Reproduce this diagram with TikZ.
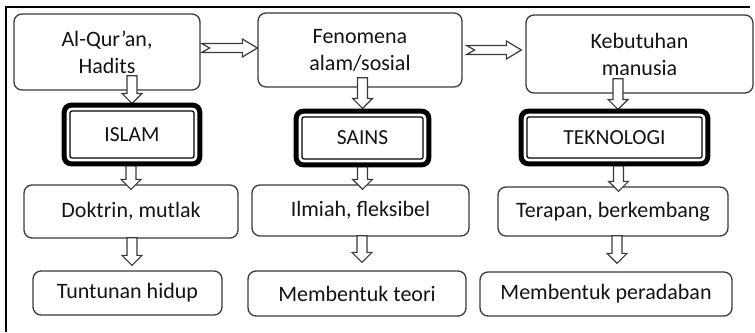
\documentclass[tikz,border=0pt]{standalone}
\usepackage{fontspec}
\setmainfont{Carlito}
\usetikzlibrary{calc}
\definecolor{edge}{HTML}{3A3A3A}
\definecolor{ink}{HTML}{141414}
\tikzset{
  rbox/.style={draw=edge, line width=1.3pt, rounded corners=8pt, fill=white,
    inner sep=0pt, align=center, text=ink, font=\fontsize{22}{27}\selectfont},
  inbox/.style={draw=black, line width=1.2pt, rounded corners=2pt, fill=white,
    inner sep=0pt, align=center, text=ink, font=\fontsize{21.5}{27}\selectfont},
  thickframe/.style={draw=black, line width=5pt, rounded corners=7pt},
  fat/.style={draw=edge, line width=1.2pt, fill=white, line join=miter},
  frameline/.style={draw=black, line width=1.3pt}
}
\newcommand\harrow[2]{%
  \draw[fat] let \p1=(#1), \p2=(#2) in
    (\x1,\y1+4.5pt) -- (\x2-15pt,\y1+4.5pt) -- (\x2-15pt,\y1+9pt) -- (\x2,\y1)
    -- (\x2-15pt,\y1-9pt) -- (\x2-15pt,\y1-4.5pt) -- (\x1,\y1-4.5pt)
    -- (\x1+8pt,\y1) -- cycle;}
\newcommand\varrow[2]{%
  \draw[fat] let \p1=(#1), \p2=(#2) in
    (\x1-5pt,\y1) -- (\x1-5pt,\y2+10pt) -- (\x1-10pt,\y2+10pt) -- (\x1,\y2)
    -- (\x1+10pt,\y2+10pt) -- (\x1+5pt,\y2+10pt) -- (\x1+5pt,\y1) -- cycle;}
\begin{document}
\begin{tikzpicture}[x=1pt,y=-1pt]
\useasboundingbox (0,0) rectangle (755,332);
\draw[frameline] (6,332) -- (6,7) -- (750,7);

% top row
\node[rbox, minimum width=186pt, minimum height=76pt] (a) at (107,52) {Al-Qur’an,\\Hadits};
\node[rbox, minimum width=204pt, minimum height=74pt] (b) at (360,50) {Fenomena\\alam/sosial};
\node[rbox, minimum width=227pt, minimum height=78pt] (c) at (639.5,54) {Kebutuhan\\manusia};

% middle row (thick-thin frames)
\node[inbox, minimum width=124pt, minimum height=47pt] (islam) at (132,134.5) {ISLAM};
\node[inbox, minimum width=121pt, minimum height=42pt] (sains) at (362.5,138) {SAINS};
\node[inbox, minimum width=175pt, minimum height=41pt] (tek) at (614.5,137.5) {TEKNOLOGI};

% lower rows
\node[rbox, minimum width=214pt, minimum height=53pt] (dok) at (131,211.5) {Doktrin, mutlak};
\node[rbox, minimum width=217pt, minimum height=51pt] (ilm) at (360.5,210.5) {Ilmiah, fleksibel};
\node[rbox, minimum width=230pt, minimum height=49pt] (ter) at (613,211.5) {Terapan, berkembang};
\node[rbox, minimum width=189pt, minimum height=44pt] (tun) at (127.5,293) {Tuntunan hidup};
\node[rbox, minimum width=218pt, minimum height=45pt] (teo) at (357,293.5) {Membentuk teori};
\node[rbox, minimum width=252pt, minimum height=44pt] (per) at (606,294) {Membentuk peradaban};

% horizontal arrows
\harrow{$(a.east)+(1,-4)$}{$(b.west)+(0,-4)$}
\harrow{$(b.east)+(4,0)$}{$(c.west)+(-4,0)$}

% vertical arrows
\varrow{$(islam.north |- a.south)+(0,-15)$}{$(islam.north)+(0,-7)$}
\varrow{$(sains.north |- b.south)+(0,-10)$}{$(sains.north)+(0,-8)$}
\varrow{$(tek.north |- c.south)+(3.5,-15)$}{$(tek.north)+(3.5,-7)$}
\varrow{$(islam.south)+(-1,7)$}{$(dok.north)+(0,5)$}
\varrow{$(sains.south)+(0,7)$}{$(ilm.north)+(0,5)$}
\varrow{$(tek.south)+(4,7)$}{$(ter.north)+(0,5)$}
\varrow{$(dok.south)+(1,-1)$}{$(tun.north)+(0,-5)$}
\varrow{$(ilm.south)+(1.5,-1)$}{$(teo.north)+(0,-8)$}
\varrow{$(ter.south)+(4,-1)$}{$(per.north)+(0,-8)$}

% thick outer frames
\foreach \n in {islam,sains,tek}{
  \draw[thickframe] ([shift={(-5.2pt,5.2pt)}]\n.north west) rectangle ([shift={(5.2pt,-5.2pt)}]\n.south east);
}
\end{tikzpicture}
\end{document}
